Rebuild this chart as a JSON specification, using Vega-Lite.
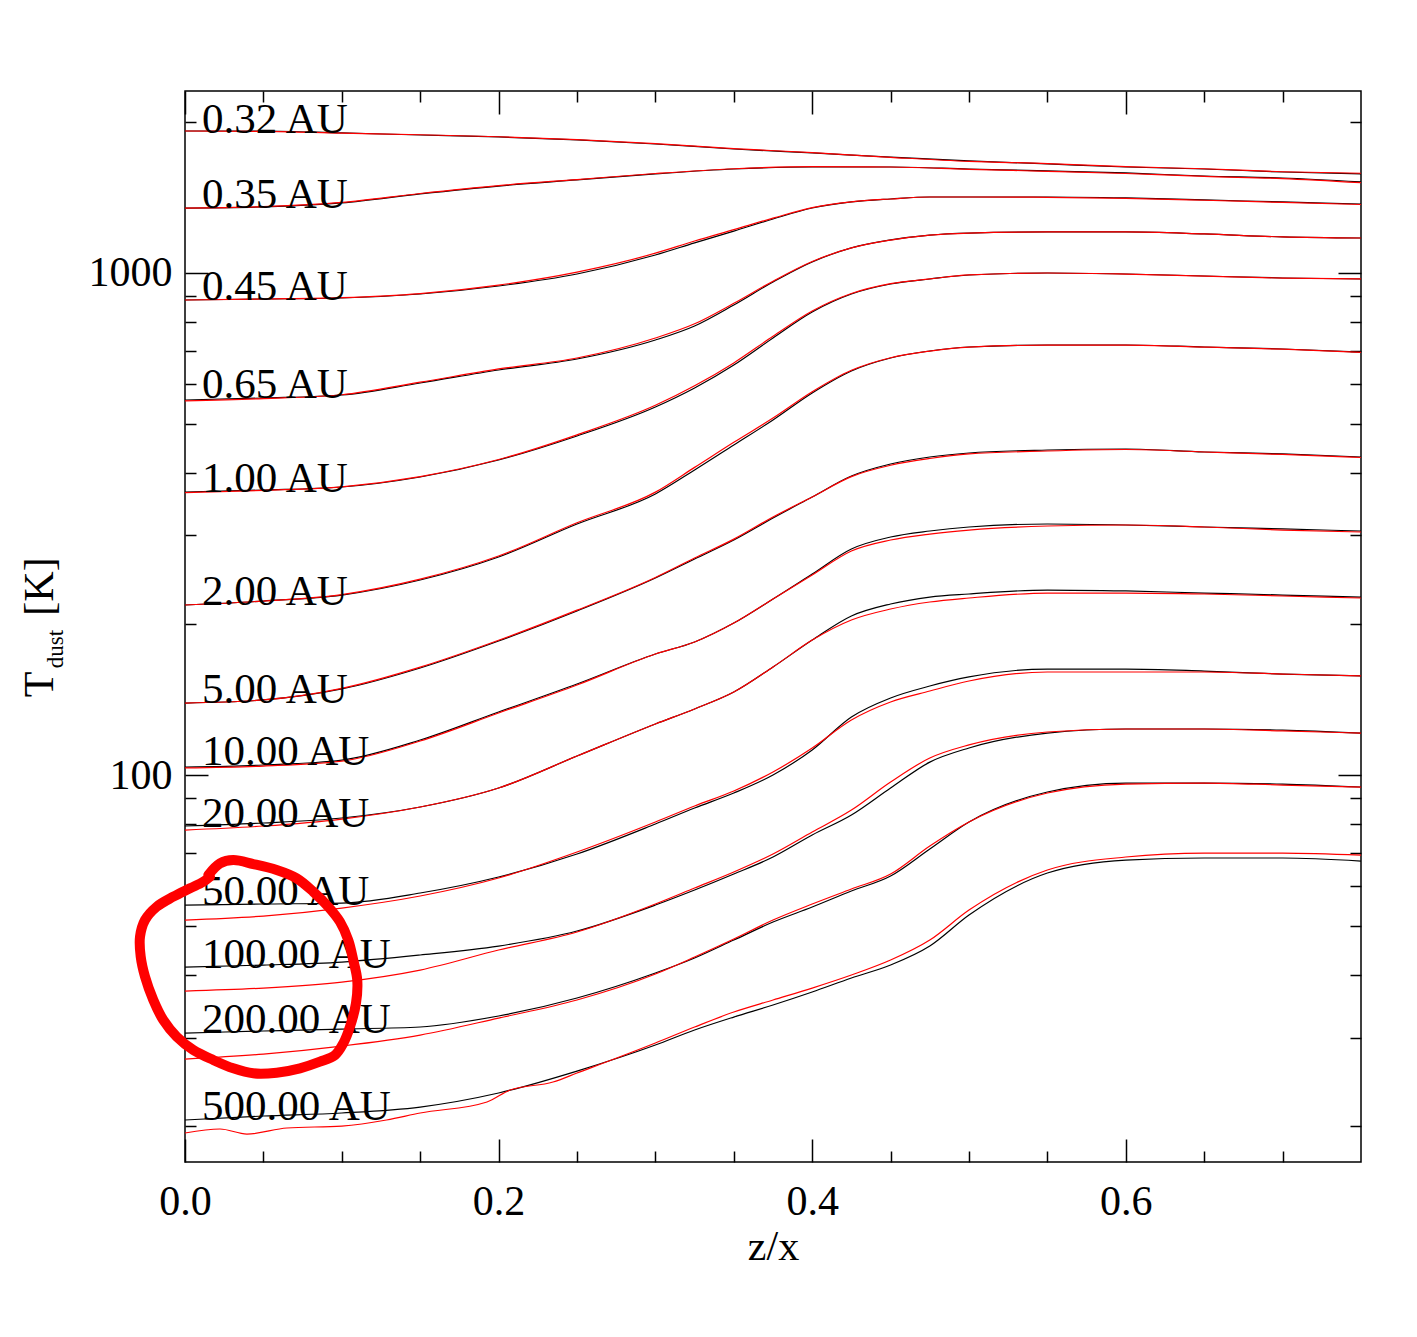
{
"$schema":"https://vega.github.io/schema/vega-lite/v6.json",
"width":1176,"height":1071,
"autosize":{"type":"none"},
"padding":{"left":185,"top":91,"right":56,"bottom":175},
"background":"white",
"config":{
 "view":{"stroke":"#000","strokeWidth":1.5},
 "axis":{"domain":false,"grid":false,"tickColor":"#000","tickWidth":1.5,"labelFont":"Liberation Serif","labelFontSize":42,"labelColor":"#000","titleFont":"Liberation Serif","titleFontSize":42,"titleFontWeight":"normal","titleColor":"#000","labelFlush":false,"labelOverlap":false}
},
"datasets":{
"black":[
{"r":"0.32","x":0,"T":1918},{"r":"0.32","x":0.05,"T":1918},{"r":"0.32","x":0.1,"T":1901},{"r":"0.32","x":0.15,"T":1883},{"r":"0.32","x":0.2,"T":1866},{"r":"0.32","x":0.25,"T":1841},{"r":"0.32","x":0.3,"T":1807},{"r":"0.32","x":0.35,"T":1766},{"r":"0.32","x":0.4,"T":1734},{"r":"0.32","x":0.45,"T":1702},{"r":"0.32","x":0.5,"T":1672},{"r":"0.32","x":0.55,"T":1649},{"r":"0.32","x":0.6,"T":1626},{"r":"0.32","x":0.65,"T":1611},{"r":"0.32","x":0.7,"T":1589},{"r":"0.32","x":0.75,"T":1575},
{"r":"0.35","x":0,"T":1347},{"r":"0.35","x":0.05,"T":1354},{"r":"0.35","x":0.1,"T":1379},{"r":"0.35","x":0.15,"T":1437},{"r":"0.35","x":0.2,"T":1490},{"r":"0.35","x":0.25,"T":1532},{"r":"0.35","x":0.3,"T":1575},{"r":"0.35","x":0.35,"T":1611},{"r":"0.35","x":0.4,"T":1626},{"r":"0.35","x":0.45,"T":1626},{"r":"0.35","x":0.5,"T":1611},{"r":"0.35","x":0.55,"T":1597},{"r":"0.35","x":0.6,"T":1582},{"r":"0.35","x":0.65,"T":1560},{"r":"0.35","x":0.7,"T":1546},{"r":"0.35","x":0.75,"T":1518},
{"r":"0.45","x":0,"T":883.5},{"r":"0.45","x":0.05,"T":887.5},{"r":"0.45","x":0.1,"T":891.6},{"r":"0.45","x":0.15,"T":908.1},{"r":"0.45","x":0.2,"T":942.1},{"r":"0.45","x":0.25,"T":995.4},{"r":"0.45","x":0.3,"T":1086},{"r":"0.45","x":0.325,"T":1148},{"r":"0.45","x":0.35,"T":1212},{"r":"0.45","x":0.375,"T":1281},{"r":"0.45","x":0.4,"T":1347},{"r":"0.45","x":0.425,"T":1385},{"r":"0.45","x":0.45,"T":1404},{"r":"0.45","x":0.475,"T":1417},{"r":"0.45","x":0.5,"T":1417},{"r":"0.45","x":0.55,"T":1417},{"r":"0.45","x":0.6,"T":1411},{"r":"0.45","x":0.65,"T":1398},{"r":"0.45","x":0.7,"T":1385},{"r":"0.45","x":0.75,"T":1372},
{"r":"0.65","x":0,"T":558.5},{"r":"0.65","x":0.05,"T":563.6},{"r":"0.65","x":0.1,"T":571.4},{"r":"0.65","x":0.15,"T":603.8},{"r":"0.65","x":0.2,"T":640.9},{"r":"0.65","x":0.25,"T":674.0},{"r":"0.65","x":0.3,"T":735.4},{"r":"0.65","x":0.325,"T":784.2},{"r":"0.65","x":0.35,"T":863.5},{"r":"0.65","x":0.375,"T":959.5},{"r":"0.65","x":0.4,"T":1052},{"r":"0.65","x":0.425,"T":1122},{"r":"0.65","x":0.45,"T":1164},{"r":"0.65","x":0.475,"T":1190},{"r":"0.65","x":0.5,"T":1201},{"r":"0.65","x":0.55,"T":1207},{"r":"0.65","x":0.6,"T":1207},{"r":"0.65","x":0.65,"T":1196},{"r":"0.65","x":0.7,"T":1180},{"r":"0.65","x":0.75,"T":1174},
{"r":"1.00","x":0,"T":366.2},{"r":"1.00","x":0.05,"T":369.6},{"r":"1.00","x":0.1,"T":374.7},{"r":"1.00","x":0.15,"T":392.3},{"r":"1.00","x":0.2,"T":424.1},{"r":"1.00","x":0.25,"T":473.5},{"r":"1.00","x":0.3,"T":540.8},{"r":"1.00","x":0.325,"T":590.1},{"r":"1.00","x":0.35,"T":655.7},{"r":"1.00","x":0.375,"T":742.2},{"r":"1.00","x":0.4,"T":836.2},{"r":"1.00","x":0.425,"T":908.1},{"r":"1.00","x":0.45,"T":950.8},{"r":"1.00","x":0.475,"T":972.8},{"r":"1.00","x":0.5,"T":990.8},{"r":"1.00","x":0.55,"T":1000},{"r":"1.00","x":0.6,"T":995.4},{"r":"1.00","x":0.65,"T":986.3},{"r":"1.00","x":0.7,"T":977.3},{"r":"1.00","x":0.75,"T":972.8},
{"r":"2.00","x":0,"T":218.1},{"r":"2.00","x":0.05,"T":222.1},{"r":"2.00","x":0.1,"T":228.3},{"r":"2.00","x":0.15,"T":244.6},{"r":"2.00","x":0.2,"T":271.8},{"r":"2.00","x":0.25,"T":316.2},{"r":"2.00","x":0.3,"T":362.9},{"r":"2.00","x":0.325,"T":405.1},{"r":"2.00","x":0.35,"T":454.3},{"r":"2.00","x":0.375,"T":509.5},{"r":"2.00","x":0.4,"T":576.7},{"r":"2.00","x":0.425,"T":637.9},{"r":"2.00","x":0.45,"T":677.1},{"r":"2.00","x":0.475,"T":699.2},{"r":"2.00","x":0.5,"T":712.2},{"r":"2.00","x":0.55,"T":718.7},{"r":"2.00","x":0.6,"T":718.7},{"r":"2.00","x":0.65,"T":712.2},{"r":"2.00","x":0.7,"T":705.7},{"r":"2.00","x":0.75,"T":696.0},
{"r":"5.00","x":0,"T":139.1},{"r":"5.00","x":0.05,"T":141.1},{"r":"5.00","x":0.1,"T":148.4},{"r":"5.00","x":0.15,"T":163.4},{"r":"5.00","x":0.2,"T":184.9},{"r":"5.00","x":0.25,"T":212.2},{"r":"5.00","x":0.3,"T":246.8},{"r":"5.00","x":0.325,"T":269.3},{"r":"5.00","x":0.35,"T":293.8},{"r":"5.00","x":0.375,"T":325.0},{"r":"5.00","x":0.4,"T":357.9},{"r":"5.00","x":0.425,"T":394.1},{"r":"5.00","x":0.45,"T":416.4},{"r":"5.00","x":0.475,"T":430.0},{"r":"5.00","x":0.5,"T":437.9},{"r":"5.00","x":0.55,"T":444.0},{"r":"5.00","x":0.6,"T":446.1},{"r":"5.00","x":0.65,"T":440.0},{"r":"5.00","x":0.7,"T":436.0},{"r":"5.00","x":0.75,"T":430.0},
{"r":"10","x":0,"T":103.7},{"r":"10","x":0.05,"T":104.7},{"r":"10","x":0.1,"T":107.1},{"r":"10","x":0.15,"T":117.4},{"r":"10","x":0.2,"T":133.5},{"r":"10","x":0.25,"T":151.8},{"r":"10","x":0.3,"T":174.2},{"r":"10","x":0.325,"T":184.1},{"r":"10","x":0.35,"T":200.8},{"r":"10","x":0.375,"T":224.2},{"r":"10","x":0.4,"T":251.4},{"r":"10","x":0.425,"T":282.0},{"r":"10","x":0.45,"T":297.9},{"r":"10","x":0.475,"T":306.2},{"r":"10","x":0.5,"T":311.9},{"r":"10","x":0.55,"T":316.2},{"r":"10","x":0.6,"T":314.8},{"r":"10","x":0.65,"T":311.9},{"r":"10","x":0.7,"T":309.1},{"r":"10","x":0.75,"T":306.2},
{"r":"20","x":0,"T":79.14},{"r":"20","x":0.05,"T":80.24},{"r":"20","x":0.1,"T":82.10},{"r":"20","x":0.15,"T":86.35},{"r":"20","x":0.2,"T":94.21},{"r":"20","x":0.25,"T":109.1},{"r":"20","x":0.3,"T":126.4},{"r":"20","x":0.325,"T":135.4},{"r":"20","x":0.35,"T":146.3},{"r":"20","x":0.375,"T":164.1},{"r":"20","x":0.4,"T":185.7},{"r":"20","x":0.425,"T":207.4},{"r":"20","x":0.45,"T":219.1},{"r":"20","x":0.475,"T":226.2},{"r":"20","x":0.5,"T":229.4},{"r":"20","x":0.55,"T":233.6},{"r":"20","x":0.6,"T":232.6},{"r":"20","x":0.65,"T":230.4},{"r":"20","x":0.7,"T":228.3},{"r":"20","x":0.75,"T":226.2},
{"r":"50","x":0,"T":55.08},{"r":"50","x":0.05,"T":55.34},{"r":"50","x":0.1,"T":55.59},{"r":"50","x":0.15,"T":58.20},{"r":"50","x":0.2,"T":62.63},{"r":"50","x":0.25,"T":69.60},{"r":"50","x":0.3,"T":79.87},{"r":"50","x":0.325,"T":85.95},{"r":"50","x":0.35,"T":92.07},{"r":"50","x":0.375,"T":100.0},{"r":"50","x":0.4,"T":112.2},{"r":"50","x":0.425,"T":130.5},{"r":"50","x":0.45,"T":142.4},{"r":"50","x":0.475,"T":150.4},{"r":"50","x":0.5,"T":156.8},{"r":"50","x":0.55,"T":162.6},{"r":"50","x":0.6,"T":162.6},{"r":"50","x":0.65,"T":161.1},{"r":"50","x":0.7,"T":158.9},{"r":"50","x":0.75,"T":157.5},
{"r":"100","x":0,"T":41.45},{"r":"100","x":0.05,"T":41.83},{"r":"100","x":0.1,"T":42.41},{"r":"100","x":0.15,"T":43.80},{"r":"100","x":0.2,"T":45.64},{"r":"100","x":0.25,"T":48.89},{"r":"100","x":0.3,"T":55.08},{"r":"100","x":0.325,"T":59.01},{"r":"100","x":0.35,"T":63.50},{"r":"100","x":0.375,"T":68.65},{"r":"100","x":0.4,"T":75.94},{"r":"100","x":0.425,"T":83.23},{"r":"100","x":0.45,"T":94.21},{"r":"100","x":0.475,"T":106.1},{"r":"100","x":0.5,"T":113.2},{"r":"100","x":0.55,"T":121.2},{"r":"100","x":0.6,"T":123.5},{"r":"100","x":0.65,"T":123.5},{"r":"100","x":0.7,"T":122.9},{"r":"100","x":0.75,"T":121.2},
{"r":"200","x":0,"T":30.62},{"r":"200","x":0.05,"T":30.91},{"r":"200","x":0.1,"T":31.19},{"r":"200","x":0.15,"T":31.48},{"r":"200","x":0.2,"T":33.11},{"r":"200","x":0.25,"T":35.96},{"r":"200","x":0.3,"T":40.33},{"r":"200","x":0.325,"T":43.20},{"r":"200","x":0.35,"T":46.91},{"r":"200","x":0.375,"T":50.95},{"r":"200","x":0.4,"T":54.58},{"r":"200","x":0.425,"T":58.74},{"r":"200","x":0.45,"T":62.92},{"r":"200","x":0.475,"T":71.22},{"r":"200","x":0.5,"T":80.61},{"r":"200","x":0.55,"T":92.50},{"r":"200","x":0.6,"T":96.39},{"r":"200","x":0.65,"T":96.39},{"r":"200","x":0.7,"T":95.95},{"r":"200","x":0.75,"T":94.64},
{"r":"500","x":0,"T":20.55},{"r":"500","x":0.05,"T":20.93},{"r":"500","x":0.1,"T":21.22},{"r":"500","x":0.15,"T":21.81},{"r":"500","x":0.2,"T":23.26},{"r":"500","x":0.25,"T":25.72},{"r":"500","x":0.3,"T":28.98},{"r":"500","x":0.325,"T":31.05},{"r":"500","x":0.35,"T":32.95},{"r":"500","x":0.375,"T":34.82},{"r":"500","x":0.4,"T":36.96},{"r":"500","x":0.425,"T":39.41},{"r":"500","x":0.45,"T":41.83},{"r":"500","x":0.475,"T":45.64},{"r":"500","x":0.5,"T":52.61},{"r":"500","x":0.55,"T":63.79},{"r":"500","x":0.6,"T":67.71},{"r":"500","x":0.65,"T":68.34},{"r":"500","x":0.7,"T":68.34},{"r":"500","x":0.75,"T":67.40}
],
"red":[
{"r":"0.32","x":0,"T":1918},{"r":"0.32","x":0.05,"T":1915},{"r":"0.32","x":0.1,"T":1899},{"r":"0.32","x":0.15,"T":1885},{"r":"0.32","x":0.2,"T":1868},{"r":"0.32","x":0.25,"T":1843},{"r":"0.32","x":0.3,"T":1810},{"r":"0.32","x":0.35,"T":1769},{"r":"0.32","x":0.4,"T":1737},{"r":"0.32","x":0.45,"T":1700},{"r":"0.32","x":0.5,"T":1668},{"r":"0.32","x":0.55,"T":1652},{"r":"0.32","x":0.6,"T":1628},{"r":"0.32","x":0.65,"T":1613},{"r":"0.32","x":0.7,"T":1591},{"r":"0.32","x":0.75,"T":1580},
{"r":"0.35","x":0,"T":1347},{"r":"0.35","x":0.05,"T":1356},{"r":"0.35","x":0.1,"T":1382},{"r":"0.35","x":0.15,"T":1440},{"r":"0.35","x":0.2,"T":1493},{"r":"0.35","x":0.25,"T":1535},{"r":"0.35","x":0.3,"T":1578},{"r":"0.35","x":0.35,"T":1613},{"r":"0.35","x":0.4,"T":1628},{"r":"0.35","x":0.45,"T":1626},{"r":"0.35","x":0.5,"T":1609},{"r":"0.35","x":0.55,"T":1594},{"r":"0.35","x":0.6,"T":1578},{"r":"0.35","x":0.65,"T":1557},{"r":"0.35","x":0.7,"T":1542},{"r":"0.35","x":0.75,"T":1513},
{"r":"0.45","x":0,"T":883.5},{"r":"0.45","x":0.05,"T":887.5},{"r":"0.45","x":0.1,"T":893},{"r":"0.45","x":0.15,"T":910},{"r":"0.45","x":0.2,"T":946},{"r":"0.45","x":0.25,"T":1004},{"r":"0.45","x":0.3,"T":1095},{"r":"0.45","x":0.325,"T":1158},{"r":"0.45","x":0.35,"T":1220},{"r":"0.45","x":0.375,"T":1286},{"r":"0.45","x":0.4,"T":1350},{"r":"0.45","x":0.425,"T":1386},{"r":"0.45","x":0.45,"T":1404},{"r":"0.45","x":0.475,"T":1417},{"r":"0.45","x":0.5,"T":1417},{"r":"0.45","x":0.55,"T":1415},{"r":"0.45","x":0.6,"T":1408},{"r":"0.45","x":0.65,"T":1396},{"r":"0.45","x":0.7,"T":1382},{"r":"0.45","x":0.75,"T":1369},
{"r":"0.65","x":0,"T":556},{"r":"0.65","x":0.05,"T":562},{"r":"0.65","x":0.1,"T":572},{"r":"0.65","x":0.15,"T":606},{"r":"0.65","x":0.2,"T":644},{"r":"0.65","x":0.25,"T":677},{"r":"0.65","x":0.3,"T":742},{"r":"0.65","x":0.325,"T":792},{"r":"0.65","x":0.35,"T":870},{"r":"0.65","x":0.375,"T":963},{"r":"0.65","x":0.4,"T":1054},{"r":"0.65","x":0.425,"T":1122},{"r":"0.65","x":0.45,"T":1163},{"r":"0.65","x":0.475,"T":1190},{"r":"0.65","x":0.5,"T":1201},{"r":"0.65","x":0.55,"T":1207},{"r":"0.65","x":0.6,"T":1207},{"r":"0.65","x":0.65,"T":1196},{"r":"0.65","x":0.7,"T":1180},{"r":"0.65","x":0.75,"T":1174},
{"r":"1.00","x":0,"T":365},{"r":"1.00","x":0.05,"T":369},{"r":"1.00","x":0.1,"T":375},{"r":"1.00","x":0.15,"T":393},{"r":"1.00","x":0.2,"T":425},{"r":"1.00","x":0.25,"T":476},{"r":"1.00","x":0.3,"T":545},{"r":"1.00","x":0.325,"T":596},{"r":"1.00","x":0.35,"T":662},{"r":"1.00","x":0.375,"T":748},{"r":"1.00","x":0.4,"T":840},{"r":"1.00","x":0.425,"T":910},{"r":"1.00","x":0.45,"T":952},{"r":"1.00","x":0.475,"T":973},{"r":"1.00","x":0.5,"T":991},{"r":"1.00","x":0.55,"T":1000},{"r":"1.00","x":0.6,"T":995},{"r":"1.00","x":0.65,"T":986},{"r":"1.00","x":0.7,"T":977},{"r":"1.00","x":0.75,"T":973},
{"r":"2.00","x":0,"T":218.1},{"r":"2.00","x":0.05,"T":222.1},{"r":"2.00","x":0.1,"T":228.8},{"r":"2.00","x":0.15,"T":245.5},{"r":"2.00","x":0.2,"T":273},{"r":"2.00","x":0.25,"T":318},{"r":"2.00","x":0.3,"T":366},{"r":"2.00","x":0.325,"T":410},{"r":"2.00","x":0.35,"T":460},{"r":"2.00","x":0.375,"T":514},{"r":"2.00","x":0.4,"T":580},{"r":"2.00","x":0.425,"T":640},{"r":"2.00","x":0.45,"T":678},{"r":"2.00","x":0.475,"T":699},{"r":"2.00","x":0.5,"T":712},{"r":"2.00","x":0.55,"T":718},{"r":"2.00","x":0.6,"T":718},{"r":"2.00","x":0.65,"T":712},{"r":"2.00","x":0.7,"T":705},{"r":"2.00","x":0.75,"T":695},
{"r":"5.00","x":0,"T":139.1},{"r":"5.00","x":0.05,"T":141.1},{"r":"5.00","x":0.1,"T":148.8},{"r":"5.00","x":0.15,"T":164},{"r":"5.00","x":0.2,"T":185.5},{"r":"5.00","x":0.25,"T":213},{"r":"5.00","x":0.3,"T":247.5},{"r":"5.00","x":0.325,"T":270.5},{"r":"5.00","x":0.35,"T":295},{"r":"5.00","x":0.375,"T":326.5},{"r":"5.00","x":0.4,"T":358},{"r":"5.00","x":0.425,"T":393},{"r":"5.00","x":0.45,"T":414},{"r":"5.00","x":0.475,"T":427},{"r":"5.00","x":0.5,"T":436},{"r":"5.00","x":0.55,"T":442},{"r":"5.00","x":0.6,"T":445},{"r":"5.00","x":0.65,"T":440},{"r":"5.00","x":0.7,"T":435},{"r":"5.00","x":0.75,"T":429},
{"r":"10","x":0,"T":103.3},{"r":"10","x":0.05,"T":104.2},{"r":"10","x":0.1,"T":106.6},{"r":"10","x":0.15,"T":116.9},{"r":"10","x":0.2,"T":132.9},{"r":"10","x":0.25,"T":151.1},{"r":"10","x":0.3,"T":174.2},{"r":"10","x":0.325,"T":184.1},{"r":"10","x":0.35,"T":200.8},{"r":"10","x":0.375,"T":224.2},{"r":"10","x":0.4,"T":250.3},{"r":"10","x":0.425,"T":279.4},{"r":"10","x":0.45,"T":293.8},{"r":"10","x":0.475,"T":302.0},{"r":"10","x":0.5,"T":307.6},{"r":"10","x":0.55,"T":313.3},{"r":"10","x":0.6,"T":314.8},{"r":"10","x":0.65,"T":311.9},{"r":"10","x":0.7,"T":307.6},{"r":"10","x":0.75,"T":304.8},
{"r":"20","x":0,"T":77.70},{"r":"20","x":0.05,"T":79.14},{"r":"20","x":0.1,"T":81.72},{"r":"20","x":0.15,"T":86.35},{"r":"20","x":0.2,"T":94.21},{"r":"20","x":0.25,"T":109.1},{"r":"20","x":0.3,"T":126.4},{"r":"20","x":0.325,"T":135.4},{"r":"20","x":0.35,"T":146.3},{"r":"20","x":0.375,"T":164.1},{"r":"20","x":0.4,"T":185.7},{"r":"20","x":0.425,"T":203.6},{"r":"20","x":0.45,"T":214.1},{"r":"20","x":0.475,"T":221.1},{"r":"20","x":0.5,"T":225.2},{"r":"20","x":0.55,"T":230.4},{"r":"20","x":0.6,"T":230.4},{"r":"20","x":0.65,"T":229.4},{"r":"20","x":0.7,"T":227.3},{"r":"20","x":0.75,"T":225.2},
{"r":"50","x":0,"T":51.42},{"r":"50","x":0.05,"T":52.37},{"r":"50","x":0.1,"T":54.33},{"r":"50","x":0.15,"T":57.41},{"r":"50","x":0.2,"T":62.35},{"r":"50","x":0.25,"T":70.24},{"r":"50","x":0.3,"T":80.61},{"r":"50","x":0.325,"T":86.74},{"r":"50","x":0.35,"T":92.92},{"r":"50","x":0.375,"T":101.4},{"r":"50","x":0.4,"T":113.2},{"r":"50","x":0.425,"T":128.7},{"r":"50","x":0.45,"T":139.8},{"r":"50","x":0.475,"T":147.0},{"r":"50","x":0.5,"T":153.9},{"r":"50","x":0.55,"T":160.4},{"r":"50","x":0.6,"T":160.4},{"r":"50","x":0.65,"T":160.4},{"r":"50","x":0.7,"T":158.9},{"r":"50","x":0.75,"T":157.5},
{"r":"100","x":0,"T":37.13},{"r":"100","x":0.05,"T":37.64},{"r":"100","x":0.1,"T":38.69},{"r":"100","x":0.15,"T":40.88},{"r":"100","x":0.2,"T":44.81},{"r":"100","x":0.25,"T":48.67},{"r":"100","x":0.3,"T":55.34},{"r":"100","x":0.325,"T":59.55},{"r":"100","x":0.35,"T":64.09},{"r":"100","x":0.375,"T":69.60},{"r":"100","x":0.4,"T":76.99},{"r":"100","x":0.425,"T":85.16},{"r":"100","x":0.45,"T":96.84},{"r":"100","x":0.475,"T":108.1},{"r":"100","x":0.5,"T":114.8},{"r":"100","x":0.55,"T":121.8},{"r":"100","x":0.6,"T":123.5},{"r":"100","x":0.65,"T":123.5},{"r":"100","x":0.7,"T":122.4},{"r":"100","x":0.75,"T":121.2},
{"r":"200","x":0,"T":27.18},{"r":"200","x":0.05,"T":27.81},{"r":"200","x":0.1,"T":28.85},{"r":"200","x":0.15,"T":30.34},{"r":"200","x":0.2,"T":32.80},{"r":"200","x":0.25,"T":35.63},{"r":"200","x":0.3,"T":40.14},{"r":"200","x":0.325,"T":43.40},{"r":"200","x":0.35,"T":47.13},{"r":"200","x":0.375,"T":51.42},{"r":"200","x":0.4,"T":55.34},{"r":"200","x":0.425,"T":59.28},{"r":"200","x":0.45,"T":63.50},{"r":"200","x":0.475,"T":72.20},{"r":"200","x":0.5,"T":80.61},{"r":"200","x":0.55,"T":92.07},{"r":"200","x":0.6,"T":95.95},{"r":"200","x":0.65,"T":96.39},{"r":"200","x":0.7,"T":95.51},{"r":"200","x":0.75,"T":94.64},
{"r":"500","x":0,"T":19.36},{"r":"500","x":0.0223,"T":19.72},{"r":"500","x":0.0395,"T":19.27},{"r":"500","x":0.065,"T":19.81},{"r":"500","x":0.1,"T":19.99},{"r":"500","x":0.1285,"T":20.55},{"r":"500","x":0.15,"T":21.22},{"r":"500","x":0.1926,"T":22.32},{"r":"500","x":0.2073,"T":23.58},{"r":"500","x":0.2347,"T":24.46},{"r":"500","x":0.25,"T":25.49},{"r":"500","x":0.3,"T":29.25},{"r":"500","x":0.325,"T":31.48},{"r":"500","x":0.35,"T":33.72},{"r":"500","x":0.375,"T":35.63},{"r":"500","x":0.4,"T":37.64},{"r":"500","x":0.425,"T":39.96},{"r":"500","x":0.45,"T":42.80},{"r":"500","x":0.475,"T":46.91},{"r":"500","x":0.5,"T":53.83},{"r":"500","x":0.55,"T":64.68},{"r":"500","x":0.6,"T":68.65},{"r":"500","x":0.65,"T":69.92},{"r":"500","x":0.7,"T":69.92},{"r":"500","x":0.75,"T":69.28}
],
"labels":[
{"label":"0.32 AU","x":0,"T":1901},{"label":"0.35 AU","x":0,"T":1347},{"label":"0.45 AU","x":0,"T":883.5},{"label":"0.65 AU","x":0,"T":563.6},{"label":"1.00 AU","x":0,"T":366.2},{"label":"2.00 AU","x":0,"T":218.1},{"label":"5.00 AU","x":0,"T":139.1},{"label":"10.00 AU","x":0,"T":104.7},{"label":"20.00 AU","x":0,"T":78.78},{"label":"50.00 AU","x":0,"T":55.08},{"label":"100.00 AU","x":0,"T":41.26},{"label":"200.00 AU","x":0,"T":30.62},{"label":"500.00 AU","x":0,"T":20.55}
],
"circle":[
{"i":1,"x":0.01486,"T":63.21},{"i":2,"x":0.02232,"T":66.69},{"i":3,"x":0.0308,"T":67.71},{"i":4,"x":0.04355,"T":66.48},{"i":5,"x":0.05847,"T":64.68},{"i":6,"x":0.07122,"T":62.26},{"i":7,"x":0.08181,"T":58.55},{"i":8,"x":0.09137,"T":54.66},{"i":9,"x":0.09883,"T":51.02},{"i":10,"x":0.10413,"T":46.91},{"i":11,"x":0.10731,"T":42.8},{"i":12,"x":0.10986,"T":39.05},{"i":13,"x":0.10904,"T":35.09},{"i":14,"x":0.10521,"T":31.52},{"i":15,"x":0.10094,"T":29.21},{"i":16,"x":0.09565,"T":27.68},{"i":17,"x":0.08608,"T":26.85},{"i":18,"x":0.07333,"T":26.05},{"i":19,"x":0.05847,"T":25.53},{"i":20,"x":0.04355,"T":25.46},{"i":21,"x":0.0308,"T":26.05},{"i":22,"x":0.01805,"T":27.06},{"i":23,"x":0.00529,"T":28.33},{"i":24,"x":-0.00529,"T":30.11},{"i":25,"x":-0.01384,"T":32.5},{"i":26,"x":-0.02021,"T":35.63},{"i":27,"x":-0.02551,"T":39.65},{"i":28,"x":-0.02825,"T":43.46},{"i":29,"x":-0.02869,"T":47.63},{"i":30,"x":-0.02551,"T":51.42},{"i":31,"x":-0.01805,"T":54.66},{"i":32,"x":-0.00746,"T":57.22},{"i":33,"x":0.00319,"T":59.47},{"i":34,"x":0.01167,"T":61.3},{"i":35,"x":0.01594,"T":62.72}
]
},
"layer":[
{
 "data":{"name":"black"},
 "mark":{"type":"line","color":"#000000","strokeWidth":1.2,"interpolate":"monotone"},
 "encoding":{
  "x":{"field":"x","type":"quantitative","scale":{"domain":[0,0.75],"nice":false,"zero":false},
       "axis":{"orient":"bottom","values":[0,0.2,0.4,0.6],"tickSize":-23,"format":".1f","labelPadding":42,"title":"z/x","titlePadding":4}},
  "y":{"field":"T","type":"quantitative","scale":{"type":"log","domain":[16.95,2304],"nice":false},
       "axis":{"orient":"left","values":[100,1000],"tickSize":-23,"format":"d","labelPadding":36,"title":null}},
  "detail":{"field":"r"}
 }
},
{
 "data":{"name":"red"},
 "mark":{"type":"line","color":"#ff0000","strokeWidth":1.2,"interpolate":"monotone"},
 "encoding":{
  "x":{"field":"x","type":"quantitative","scale":{"domain":[0,0.75],"nice":false,"zero":false},
       "axis":{"orient":"bottom","values":[0.05,0.1,0.15,0.25,0.3,0.35,0.45,0.5,0.55,0.65,0.7],"tickSize":-11,"labels":false,"title":null}},
  "y":{"field":"T","type":"quantitative","scale":{"type":"log","domain":[16.95,2304],"nice":false},
       "axis":{"orient":"left","values":[20,30,40,50,60,70,80,90,200,300,400,500,600,700,800,900,2000],"tickSize":-11,"labels":false,"title":null}},
  "detail":{"field":"r"}
 }
},
{
 "data":{"name":"labels"},
 "mark":{"type":"text","align":"left","baseline":"alphabetic","dx":17,"fontSize":43,"font":"Liberation Serif","color":"#000000"},
 "encoding":{
  "x":{"field":"x","type":"quantitative","scale":{"domain":[0,0.75],"nice":false,"zero":false},
       "axis":{"orient":"top","values":[0,0.2,0.4,0.6],"tickSize":-23,"labels":false,"title":null}},
  "y":{"field":"T","type":"quantitative","scale":{"type":"log","domain":[16.95,2304],"nice":false},
       "axis":{"orient":"right","values":[100,1000],"tickSize":-23,"labels":false,"title":null}},
  "text":{"field":"label"}
 }
},
{
 "data":{"name":"circle"},
 "mark":{"type":"line","color":"#ff0000","strokeWidth":10,"strokeCap":"round","strokeJoin":"round","interpolate":"catmull-rom"},
 "encoding":{
  "x":{"field":"x","type":"quantitative","scale":{"domain":[0,0.75],"nice":false,"zero":false},
       "axis":{"orient":"top","values":[0.05,0.1,0.15,0.25,0.3,0.35,0.45,0.5,0.55,0.65,0.7],"tickSize":-11,"labels":false,"title":null}},
  "y":{"field":"T","type":"quantitative","scale":{"type":"log","domain":[16.95,2304],"nice":false},
       "axis":{"orient":"right","values":[20,30,40,50,60,70,80,90,200,300,400,500,600,700,800,900,2000],"tickSize":-11,"labels":false,"title":null}},
  "order":{"field":"i","type":"quantitative"}
 }
},
{
 "data":{"values":[{}]},
 "mark":{"type":"text","text":"T","angle":270,"align":"center","baseline":"alphabetic","fontSize":42,"font":"Liberation Serif","color":"#000000","dy":-132},
 "encoding":{
  "x":{"datum":0,"type":"quantitative","scale":{"domain":[0,0.75],"nice":false,"zero":false},"axis":null},
  "y":{"datum":151.5,"type":"quantitative","scale":{"type":"log","domain":[16.95,2304],"nice":false},"axis":null}
 }
},
{
 "data":{"values":[{}]},
 "mark":{"type":"text","text":"dust","angle":270,"align":"center","baseline":"alphabetic","fontSize":23,"font":"Liberation Serif","color":"#000000","dy":-122},
 "encoding":{
  "x":{"datum":0,"type":"quantitative","scale":{"domain":[0,0.75],"nice":false,"zero":false},"axis":null},
  "y":{"datum":178.2,"type":"quantitative","scale":{"type":"log","domain":[16.95,2304],"nice":false},"axis":null}
 }
},
{
 "data":{"values":[{}]},
 "mark":{"type":"text","text":"[K]","angle":270,"align":"center","baseline":"alphabetic","fontSize":42,"font":"Liberation Serif","color":"#000000","dy":-132},
 "encoding":{
  "x":{"datum":0,"type":"quantitative","scale":{"domain":[0,0.75],"nice":false,"zero":false},"axis":null},
  "y":{"datum":237.4,"type":"quantitative","scale":{"type":"log","domain":[16.95,2304],"nice":false},"axis":null}
 }
}
],
"resolve":{"axis":{"x":"independent","y":"independent"}}
}
